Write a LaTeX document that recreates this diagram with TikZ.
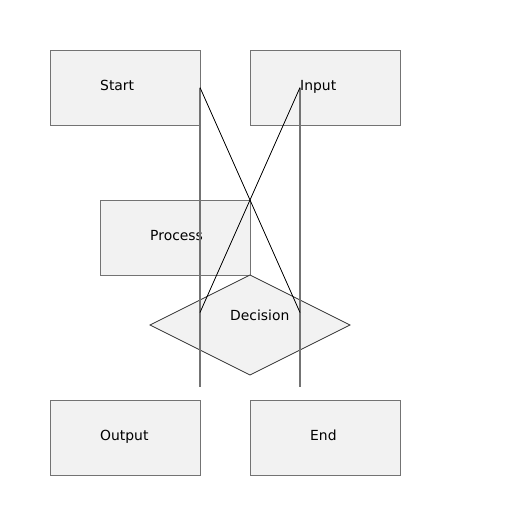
\documentclass[tikz,border=0pt]{standalone}
\usepackage{fontspec}
\setmainfont{DejaVu Sans}
\usetikzlibrary{shapes.geometric}
\begin{document}
\begin{tikzpicture}[x=1pt,y=-1pt]

\tikzset{box/.style={rectangle,minimum width=150pt,minimum height=75pt,inner sep=0pt,outer sep=0pt,draw=black!55,fill=black!5,line width=1pt},}
\tikzset{choice/.style={diamond,minimum width=200pt,minimum height=100pt,inner sep=0pt,outer sep=0pt,draw=black!80,fill=black!5,line width=0.8pt},}
\tikzset{txt/.style={anchor=base west,inner sep=0pt,font=\fontsize{13.9pt}{16pt}\selectfont},}
\tikzset{wire/.style={draw=black!55,line width=1.3pt},}
\tikzset{cross/.style={draw=black,line width=0.8pt},}

\useasboundingbox (0,0) rectangle (512,512);

%BOXES
\draw (125,87.5) node [box] (start) {};
\draw (325,87.5) node [box] (input) {};
\draw (175,237.5) node [box] (process) {};
\draw (250,325) node [choice] (decision) {};
\draw (125,437.5) node [box] (output) {};
\draw (325,437.5) node [box] (finish) {};

%TEXTS
\draw (100,90) node [txt] (startlbl) {Start};
\draw (300,90) node [txt] (inputlbl) {Input};
\draw (150,240) node [txt] (processlbl) {Process};
\draw (230,320) node [txt] (decisionlbl) {Decision};
\draw (100,440) node [txt] (outputlbl) {Output};
\draw (310,440) node [txt] (finishlbl) {End};

\coordinate (inputin) at (300,87.5);
\coordinate (downl) at (200,387);
\coordinate (downr) at (300,387);
\coordinate (decl) at (200,312.5);
\coordinate (decr) at (300,312.5);

\draw[wire] (start.east) -- (downl);
\draw[wire] (inputin) -- (downr);
\draw[cross] (start.east) -- (decr);
\draw[cross] (inputin) -- (decl);

\end{tikzpicture}
\end{document}
